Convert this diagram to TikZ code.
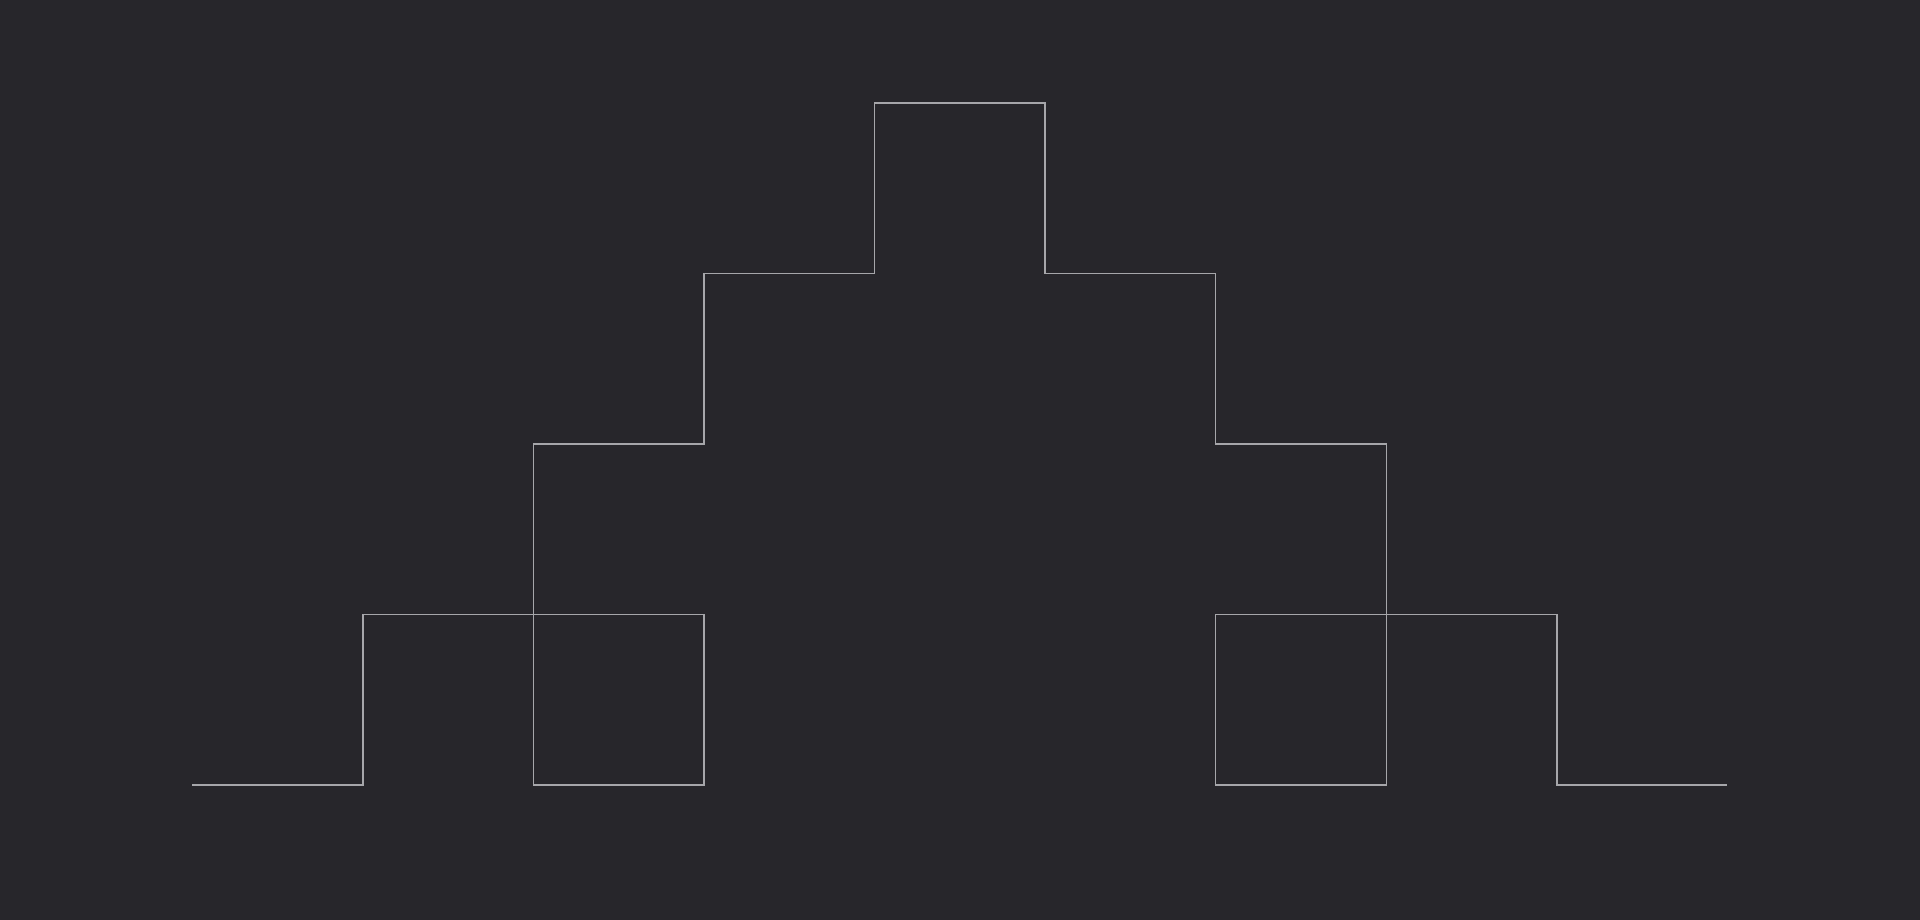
\documentclass[tikz,border=0pt]{standalone}
\definecolor{bgdark}{HTML}{27262B}
\definecolor{stairline}{HTML}{A6A6AA}
\tikzset{stair/.style={draw=stairline,line width=0.25pt,line join=miter}}

\begin{document}
\begin{tikzpicture}
    \fill[bgdark] (-1.127,-0.788) rectangle (10.129,4.603);
    \useasboundingbox (-1.127,-0.788) rectangle (10.129,4.603);
    \draw[stair] (0,0) -- (1,0) -- (1,1) -- (3,1) -- (3,0) -- (2,0) -- (2,2)
        -- (3,2) -- (3,3) -- (4,3) -- (4,4) -- (5,4) -- (5,3) -- (6,3)
        -- (6,2) -- (7,2) -- (7,0) -- (6,0) -- (6,1) -- (8,1) -- (8,0) -- (9,0);
\end{tikzpicture}
\end{document}
